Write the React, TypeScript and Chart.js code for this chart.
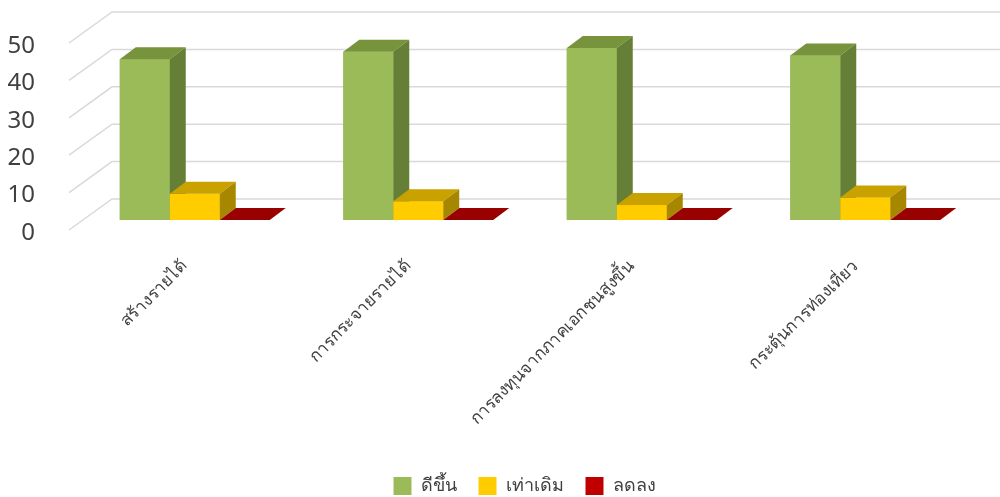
import React, { useEffect, useRef } from 'react';
import { Chart, registerables } from 'chart.js';

Chart.register(...registerables);

// ---- data ----
const categories = [
  'สร้างรายได้',
  'การกระจายรายได้',
  'การลงทุนจากภาคเอกชนสูงขึ้น',
  'กระตุ้นการท่องเที่ยว',
];
const seriesNames = ['ดีขึ้น', 'เท่าเดิม', 'ลดลง'];
const betterValues = [43, 45, 46, 44];
const sameValues = [7, 5, 4, 6];
const worseValues = [0, 0, 0, 0];
const yMin = 0;
const yMax = 50;
const yStep = 10;

// ---- style ----
const FONT = "'Noto Sans', 'DejaVu Sans', sans-serif";
const TEXT = '#404040';
const faces = [
  { front: '#9BBB59', top: '#77933C', side: '#657F36' },
  { front: '#FFCC00', top: '#C9A200', side: '#A78700' },
  { front: '#C00000', top: '#990000', side: '#7A0000' },
];
const DEPTH = { dx: 16, dy: -12 }; // bar depth
const BACK = { dx: 29, dy: -21 }; // bar plane -> back wall
const FRONT = { dx: -14, dy: 10 }; // bar plane -> front edge
const PLOT_TOP = 33;
const PLOT_LEFT = 83;
const PLOT_BOTTOM = 220;
const LEGEND_H = 42;
const LEGEND_SHIFT = 72;

function poly(ctx: CanvasRenderingContext2D, pts: number[][], color: string) {
  ctx.beginPath();
  ctx.moveTo(pts[0][0], pts[0][1]);
  for (let i = 1; i < pts.length; i++) ctx.lineTo(pts[i][0], pts[i][1]);
  ctx.closePath();
  ctx.fillStyle = color;
  ctx.fill();
}

const legendSize = {
  id: 'legendSize',
  beforeInit(chart: any) {
    const lg = chart.legend;
    if (lg && !lg.__wrapped) {
      const orig = lg.fit.bind(lg);
      lg.fit = function () {
        orig();
        this.height = LEGEND_H;
      };
      lg.__wrapped = true;
    }
  },
  afterLayout(chart: any) {
    if (chart.legend) chart.legend.left += LEGEND_SHIFT;
  },
};

const threeD = {
  id: 'threeD',
  beforeDatasetsDraw(chart: any) {
    const { ctx, chartArea, scales } = chart;
    const y = scales.y;
    ctx.save();
    ctx.strokeStyle = '#D9D9D9';
    ctx.lineWidth = 1.5;
    y.ticks.forEach((t: any) => {
      const py = y.getPixelForValue(t.value);
      ctx.beginPath();
      ctx.moveTo(chartArea.left + FRONT.dx, py + FRONT.dy);
      ctx.lineTo(chartArea.left + BACK.dx, py + BACK.dy);
      ctx.lineTo(chartArea.right + BACK.dx, py + BACK.dy);
      ctx.stroke();
    });
    ctx.restore();
  },
  afterDatasetsDraw(chart: any) {
    const { ctx } = chart;
    const n = chart.data.labels.length;
    const metas = chart.data.datasets.map((_: any, i: number) => chart.getDatasetMeta(i));
    ctx.save();
    for (let c = 0; c < n; c++) {
      metas.forEach((m: any, di: number) => {
        const el = m.data[c];
        if (!el) return;
        const { x, y, base, width } = el.getProps(['x', 'y', 'base', 'width'], true);
        const l = x - width / 2;
        const r = x + width / 2;
        const f = faces[di];
        if (base - y > 0) {
          ctx.fillStyle = f.front;
          ctx.fillRect(l, y, width, base - y);
        }
        poly(ctx, [[l, y], [r, y], [r + DEPTH.dx, y + DEPTH.dy], [l + DEPTH.dx, y + DEPTH.dy]], f.top);
        if (base - y > 0) {
          poly(ctx, [[r, y], [r + DEPTH.dx, y + DEPTH.dy], [r + DEPTH.dx, base + DEPTH.dy], [r, base]], f.side);
        }
      });
    }
    ctx.restore();
  },
};

export default function App() {
  const ref = useRef<HTMLCanvasElement>(null);
  useEffect(() => {
    const valueSets = [betterValues, sameValues, worseValues];
    const chart = new Chart(ref.current as HTMLCanvasElement, {
      type: 'bar',
      data: {
        labels: categories,
        datasets: seriesNames.map((name, i) => ({
          label: name,
          data: valueSets[i],
          backgroundColor: faces[i].front,
          borderWidth: 0,
          categoryPercentage: 0.671,
          barPercentage: 1,
        })),
      },
      options: {
        animation: false,
        responsive: false,
        devicePixelRatio: 1,
        layout: { padding: { left: 0, right: 23, top: PLOT_TOP, bottom: 0 } },
        plugins: {
          tooltip: { enabled: false },
          legend: {
            position: 'bottom',
            labels: {
              boxWidth: 18,
              boxHeight: 18,
              padding: 22,
              color: TEXT,
              font: { family: FONT, size: 18 },
            },
          },
        },
        scales: {
          x: {
            grid: { display: false, drawTicks: false },
            border: { display: false },
            ticks: {
              autoSkip: false,
              maxRotation: 45,
              minRotation: 45,
              padding: 36,
              labelOffset: -10,
              color: TEXT,
              font: { family: FONT, size: 17 },
            },
            afterFit(s: any) {
              s.height = s.chart.height - LEGEND_H - PLOT_BOTTOM;
              s.paddingLeft = 0;
              s.paddingRight = 0;
            },
          },
          y: {
            min: yMin,
            max: yMax,
            grid: { display: false, drawTicks: false },
            border: { display: false },
            ticks: {
              stepSize: yStep,
              autoSkip: false,
              padding: 48,
              labelOffset: 13,
              color: TEXT,
              font: { family: FONT, size: 24, lineHeight: 1 },
            },
            afterFit(s: any) {
              s.width = PLOT_LEFT;
              s.paddingTop = 0;
              s.paddingBottom = 0;
            },
          },
        },
      },
      plugins: [legendSize, threeD],
    } as any);
    return () => chart.destroy();
  }, []);
  return (
    <div style={{ position: 'absolute', left: 0, top: 0, width: 1000, height: 497, background: '#fff' }}>
      <canvas ref={ref} width={1000} height={497} style={{ display: 'block' }} />
    </div>
  );
}
